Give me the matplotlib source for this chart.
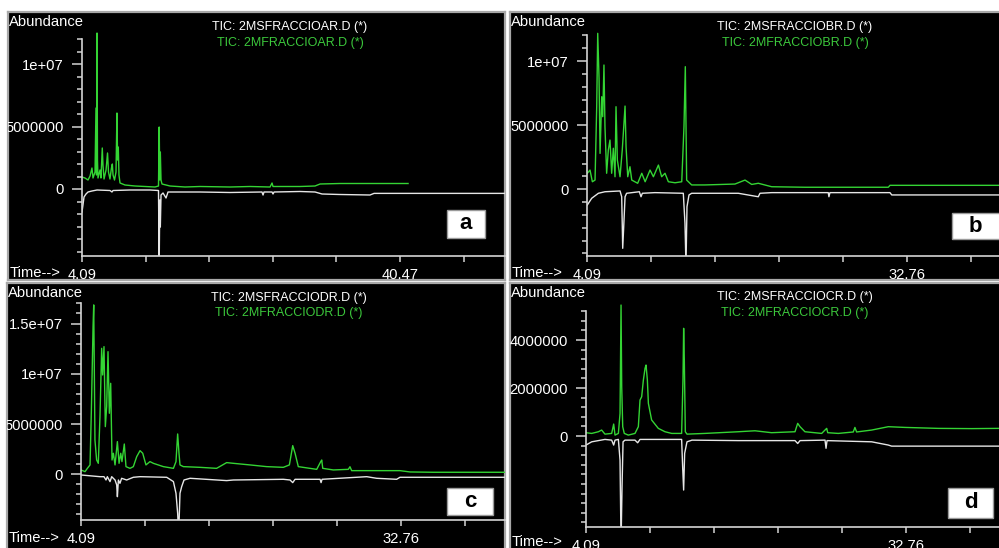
import matplotlib
matplotlib.use("Agg")
import matplotlib.pyplot as plt
from matplotlib.patches import Rectangle

plt.rcParams["font.family"] = ["Liberation Sans", "DejaVu Sans"]

FIG_W, FIG_H = 999, 548

# retention time (min) and abundance (millions)
a_green_t = [4.09, 4.43, 4.78, 5.01, 5.23, 5.35, 5.58, 5.69, 5.75, 5.81,
             5.86, 5.92, 6.15, 6.26, 6.41, 6.49, 6.61, 6.84, 7.01, 7.12,
             7.29, 7.46, 7.56, 7.64, 7.81, 7.98, 8.09, 8.16, 8.24, 8.32,
             8.44, 9.01, 10.15, 11.3, 12.44, 12.84, 12.92, 12.99, 13.05, 13.13,
             13.24, 14.16, 15.87, 17.59, 21.02, 23.31, 25.6, 25.83, 25.94, 29.03,
             30.75, 31.32, 33.61, 38.18, 41.39]
a_green_y = [0.96, 0.88, 0.72, 1.04, 1.68, 0.88, 1.36, 6.48, 1.12, 12.48,
             2.32, 0.88, 1.52, 0.88, 3.28, 1.92, 0.8, 1.52, 2.88, 1.36,
             0.8, 1.68, 2.0, 1.12, 0.72, 1.36, 6.08, 2.32, 3.36, 1.12,
             0.48, 0.32, 0.24, 0.2, 0.16, 0.24, 4.96, 0.72, 2.96, 0.72,
             0.4, 0.24, 0.16, 0.2, 0.16, 0.2, 0.16, 0.48, 0.2, 0.2,
             0.24, 0.4, 0.44, 0.44, 0.44]
a_white_t = [4.09, 4.2, 4.32, 4.55, 4.78, 5.23, 5.81, 7.29, 7.52, 7.64,
             9.58, 11.87, 12.84, 12.92, 12.99, 13.05, 13.13, 13.36, 13.7, 13.93,
             17.59, 21.02, 24.68, 24.8, 24.91, 25.83, 25.94, 26.06, 29.03, 30.75,
             31.55, 33.61, 37.04, 37.5, 52.5]
a_white_y = [-1.84, -1.28, -0.64, -0.4, -0.24, -0.16, -0.08, -0.12, -0.24, -0.12,
             -0.08, -0.08, -0.12, -6.0, -0.88, -3.04, -0.48, -0.32, -0.72, -0.24,
             -0.24, -0.28, -0.24, -0.48, -0.24, -0.24, -0.4, -0.24, -0.2, -0.24,
             -0.4, -0.44, -0.48, -0.35, -0.35]

b_green_t = [4.12, 4.36, 4.57, 4.81, 4.96, 5.05, 5.17, 5.26, 5.41, 5.5,
             5.61, 5.7, 5.85, 6.0, 6.15, 6.3, 6.45, 6.6, 6.69, 6.81,
             7.05, 7.25, 7.5, 7.59, 7.74, 7.94, 8.1, 8.63, 9.0, 9.3,
             9.74, 10.04, 10.49, 10.78, 11.08, 11.38, 11.98, 12.58, 12.78, 12.9,
             13.02, 13.47, 14.66, 17.35, 18.25, 18.85, 19.44, 20.64, 23.62, 31.09,
             31.24, 41.01]
b_green_y = [1.25, 1.5, 0.59, 0.72, 6.44, 12.16, 8.65, 2.8, 7.22, 5.66,
             9.69, 4.88, 1.25, 3.06, 3.84, 1.25, 3.2, 0.98, 6.44, 2.28,
             0.98, 3.06, 6.49, 3.32, 0.98, 1.76, 0.72, 0.47, 1.25, 0.59,
             1.5, 0.98, 1.89, 0.98, 1.25, 0.59, 0.51, 0.59, 4.88, 9.56,
             0.72, 0.34, 0.34, 0.41, 0.72, 0.38, 0.47, 0.2, 0.16, 0.16,
             0.31, 0.31]
b_white_t = [4.12, 4.51, 5.11, 5.7, 7.05, 7.2, 7.29, 7.38, 7.5, 7.64,
             8.78, 8.93, 9.05, 10.18, 12.72, 12.87, 12.96, 13.05, 13.23, 13.47,
             17.65, 19.44, 19.59, 20.64, 25.71, 25.77, 25.86, 31.24, 31.4, 41.01]
b_white_y = [-1.22, -0.7, -0.31, -0.19, -0.13, -0.58, -4.6, -2.91, -0.58, -0.31,
             -0.19, -0.58, -0.31, -0.26, -0.31, -2.65, -6.0, -1.36, -0.44, -0.31,
             -0.31, -0.58, -0.31, -0.26, -0.26, -0.58, -0.26, -0.26, -0.44, -0.44]

c_green_t = [4.09, 4.45, 4.66, 4.9, 5.02, 5.17, 5.23, 5.34, 5.49, 5.64,
             5.79, 5.94, 6.03, 6.15, 6.27, 6.39, 6.51, 6.63, 6.75, 6.87,
             6.99, 7.14, 7.35, 7.5, 7.65, 7.76, 7.97, 8.12, 8.48, 8.78,
             9.08, 9.38, 9.62, 9.91, 10.27, 10.57, 11.47, 12.37, 12.6, 12.75,
             12.87, 12.96, 13.26, 14.75, 16.24, 17.14, 17.74, 19.23, 20.72, 22.22,
             22.76, 23.06, 23.27, 23.56, 25.21, 25.57, 25.66, 25.75, 26.7, 28.04,
             28.19, 28.34, 29.69, 32.67, 33.57, 35.66, 42.1]
c_green_y = [0.43, 0.26, 0.59, 0.93, 6.4, 14.7, 16.85, 3.41, 1.42, 1.09,
             5.73, 12.53, 9.88, 12.7, 4.74, 6.73, 12.2, 6.07, 9.05, 1.42,
             2.09, 0.93, 3.25, 1.09, 2.09, 1.26, 3.01, 0.76, 0.59, 0.76,
             1.75, 2.35, 2.09, 0.93, 1.26, 1.09, 0.76, 0.59, 1.26, 4.01,
             2.09, 0.93, 0.76, 0.69, 0.59, 1.16, 1.09, 0.93, 0.76, 0.69,
             0.93, 2.85, 2.09, 0.76, 0.49, 1.26, 1.42, 0.59, 0.43, 0.49,
             0.75, 0.36, 0.36, 0.36, 0.23, 0.2, 0.2]
c_white_t = [4.09, 5.79, 6.15, 6.33, 6.45, 6.69, 6.84, 7.14, 7.29, 7.35,
             7.44, 7.58, 7.73, 8.18, 8.78, 9.38, 11.77, 12.37, 12.6, 12.75,
             12.84, 12.96, 13.11, 13.32, 13.86, 17.14, 17.74, 22.22, 22.82, 23.06,
             23.27, 25.51, 25.6, 25.69, 29.69, 30.58, 32.37, 32.67, 42.1]
c_white_y = [-0.07, -0.24, -0.24, -0.57, -0.24, -0.73, -0.24, -0.57, -1.06, -2.23,
             -0.57, -0.9, -0.4, -0.57, -0.3, -0.24, -0.3, -0.73, -1.89, -3.88,
             -6.0, -1.89, -1.23, -0.57, -0.4, -0.63, -0.57, -0.5, -0.57, -0.83,
             -0.5, -0.5, -0.83, -0.5, -0.24, -0.4, -0.5, -0.3, -0.3]

d_green_t = [4.09, 4.6, 5.2, 5.49, 5.79, 6.39, 6.57, 6.69, 6.99, 7.14,
             7.23, 7.29, 7.38, 7.52, 7.88, 8.48, 8.78, 8.93, 9.08, 9.23,
             9.38, 9.47, 9.59, 9.68, 9.97, 10.57, 11.17, 11.77, 12.66, 12.78,
             12.84, 12.9, 12.99, 13.14, 14.75, 17.74, 19.23, 20.72, 22.82, 23.06,
             23.27, 23.71, 25.21, 25.57, 25.66, 25.75, 26.7, 28.04, 28.19, 28.34,
             29.69, 31.18, 32.67, 35.66, 38.65, 41.1]
d_green_y = [0.14, 0.11, 0.18, 0.25, 0.08, 0.11, 0.5, 0.04, 0.11, 0.94,
             5.46, 2.06, 0.39, 0.11, 0.04, 0.11, 0.39, 1.5, 1.64, 2.33,
             2.82, 2.96, 2.33, 1.36, 0.67, 0.32, 0.18, 0.11, 0.11, 2.33,
             4.49, 3.17, 0.18, 0.08, 0.11, 0.18, 0.22, 0.14, 0.18, 0.53,
             0.39, 0.18, 0.11, 0.28, 0.32, 0.14, 0.11, 0.17, 0.36, 0.17,
             0.25, 0.39, 0.36, 0.32, 0.31, 0.32]
d_white_t = [4.09, 4.6, 5.79, 6.39, 6.57, 6.69, 6.99, 7.14, 7.23, 7.32,
             7.41, 7.58, 8.48, 8.72, 8.93, 12.66, 12.75, 12.84, 12.93, 13.14,
             13.59, 17.74, 22.82, 23.06, 23.27, 25.51, 25.6, 25.69, 29.69, 31.18,
             31.48, 41.1]
d_white_y = [-0.375, -0.24, -0.14, -0.17, -0.375, -0.17, -0.14, -1.0, -4.5, -2.11,
             -0.24, -0.17, -0.17, -0.28, -0.14, -0.14, -1.28, -2.25, -0.72, -0.24,
             -0.17, -0.19, -0.19, -0.31, -0.19, -0.17, -0.51, -0.19, -0.24, -0.375,
             -0.42, -0.42]

sample_files = ["2MSFRACCIOAR.D", "2MSFRACCIOBR.D", "2MSFRACCIODR.D", "2MSFRACCIOCR.D"]
sample_files_green = ["2MFRACCIOAR.D", "2MFRACCIOBR.D", "2MFRACCIODR.D", "2MFRACCIOCR.D"]
panel_letters = ["a", "b", "c", "d"]
time_end_labels = ["40.47", "32.76", "32.76", "32.76"]

GREEN = "#34d434"
GREEN_TEXT = "#3cc83c"
WHITE = "#e6e6e6"
AXIS = "#d4d4d4"
BORDER = "#a8a8a8"

# pixel layout of each panel: box, inner plot area, label positions
LAYOUT = [
    dict(box=(8, 12, 505, 280), inner=(82, 30, 505, 256), ylim=(-5.36e6, 12.72e6),
         xlim=(4.09, 52.48), step=7.276, ytop=12e6, minor=1e6,
         majors=[0, 5e6, 1e7], major_labels=["0", "5000000", "1e+07"],
         title_x=290, title_y=(27, 43), time_y=273, letter_box=(447, 210, 485, 238)),
    dict(box=(510, 12, 1006, 280), inner=(587, 30, 999, 256), ylim=(-5.2e6, 12.42e6),
         xlim=(4.09, 41.01), step=5.734, ytop=12e6, minor=1e6,
         majors=[0, 5e6, 1e7], major_labels=["0", "5000000", "1e+07"],
         title_x=795, title_y=(27, 43), time_y=273, letter_box=(952, 213, 1004, 239)),
    dict(box=(7, 283, 505, 556), inner=(81, 300, 505, 520), ylim=(-4.55e6, 17.34e6),
         xlim=(4.09, 42.08), step=5.734, ytop=17e6, minor=1e6,
         majors=[0, 5e6, 1e7, 1.5e7], major_labels=["0", "5000000", "1e+07", "1.5e+07"],
         title_x=289, title_y=(298, 313), time_y=538, letter_box=(447, 488, 493, 515)),
    dict(box=(510, 283, 1006, 556), inner=(586, 300, 999, 527), ylim=(-3.79e6, 5.67e6),
         xlim=(4.09, 41.1), step=5.734, ytop=5.2e6, minor=0.4e6,
         majors=[0, 2e6, 4e6], major_labels=["0", "2000000", "4000000"],
         title_x=795, title_y=(297, 313), time_y=542, letter_box=(948, 488, 993, 518)),
]


def fx(px):
    return px / FIG_W


def fy(py):
    return 1 - py / FIG_H


def rect(x0, y0, x1, y1):
    return [fx(x0), fy(y1), (x1 - x0) / FIG_W, (y1 - y0) / FIG_H]


def draw_panel(fig, cfg, green_t, green_y, white_t, white_y, white_name, green_name, letter, end_label):
    bg = fig.add_axes(rect(*cfg["box"]))
    bg.set_facecolor("black")
    bg.set_xticks([])
    bg.set_yticks([])
    for spine in bg.spines.values():
        spine.set_color(BORDER)
        spine.set_linewidth(1.6)

    ax = fig.add_axes(rect(*cfg["inner"]))
    ax.patch.set_visible(False)
    ax.plot(white_t, [v * 1e6 for v in white_y], color=WHITE, linewidth=1.0)
    ax.plot(green_t, [v * 1e6 for v in green_y], color=GREEN, linewidth=1.0)
    ax.set_xlim(*cfg["xlim"])
    ax.set_ylim(*cfg["ylim"])

    for side in ("top", "right"):
        ax.spines[side].set_visible(False)
    for side in ("left", "bottom"):
        ax.spines[side].set_color(AXIS)
        ax.spines[side].set_linewidth(1.2)
    ax.spines["left"].set_bounds(cfg["ylim"][0], cfg["ytop"])

    ymin = cfg["ylim"][0]
    minor_ticks = []
    k = int(ymin / cfg["minor"])
    while k * cfg["minor"] <= cfg["ytop"] + 1:
        minor_ticks.append(k * cfg["minor"])
        k += 1
    ax.set_yticks(cfg["majors"], cfg["major_labels"])
    ax.set_yticks(minor_ticks, minor=True)
    ax.tick_params(axis="y", which="major", length=7, width=1.1, color=AXIS,
                   labelcolor="white", labelsize=10.6, pad=6)
    ax.tick_params(axis="y", which="minor", length=3.8, width=1.1, color=AXIS)

    x0, step = cfg["xlim"][0], cfg["step"]
    xticks = [x0 + i * step for i in range(8) if x0 + i * step <= cfg["xlim"][1]]
    xlabels = [""] * len(xticks)
    xlabels[0] = "4.09"
    xlabels[5] = end_label
    ax.set_xticks(xticks, xlabels)
    ax.tick_params(axis="x", length=4.5, width=1.1, color=AXIS,
                   labelcolor="white", labelsize=10.6, pad=4)

    for tick in ax.yaxis.get_major_ticks():
        tick.label1.set_clip_box(bg.bbox)
        tick.label1.set_clip_on(True)

    bx0, by0 = cfg["box"][0], cfg["box"][1]
    fig.text(fx(bx0 + 1), fy(by0 + 10), "Abundance", color="white", fontsize=10.6, va="center")
    fig.text(fx(bx0 + 2), fy(cfg["time_y"]), "Time-->", color="white", fontsize=10.6, va="center")
    fig.text(fx(cfg["title_x"]), fy(cfg["title_y"][0]), f"TIC: {white_name} (*)",
             color="white", fontsize=9, ha="center", va="center")
    fig.text(fx(cfg["title_x"]), fy(cfg["title_y"][1]), f"TIC: {green_name} (*)",
             color=GREEN_TEXT, fontsize=9, ha="center", va="center")

    lx0, ly0, lx1, ly1 = cfg["letter_box"]
    fig.add_artist(Rectangle((fx(lx0), fy(ly1)), (lx1 - lx0) / FIG_W, (ly1 - ly0) / FIG_H,
                             transform=fig.transFigure, facecolor="white",
                             edgecolor="#9a9a9a", linewidth=1.0))
    cx = (lx0 + lx1) / 2 if lx1 <= 999 else lx0 + 23
    fig.text(fx(cx), fy((ly0 + ly1) / 2), letter, color="black", fontsize=16,
             fontweight="bold", ha="center", va="center")


fig = plt.figure(figsize=(FIG_W / 100, FIG_H / 100), dpi=100, facecolor="white")

series = [
    (a_green_t, a_green_y, a_white_t, a_white_y),
    (b_green_t, b_green_y, b_white_t, b_white_y),
    (c_green_t, c_green_y, c_white_t, c_white_y),
    (d_green_t, d_green_y, d_white_t, d_white_y),
]
for i, cfg in enumerate(LAYOUT):
    gt, gy, wt, wy = series[i]
    draw_panel(fig, cfg, gt, gy, wt, wy, sample_files[i], sample_files_green[i],
               panel_letters[i], time_end_labels[i])

fig.savefig("out.png", dpi=100, facecolor="white")
